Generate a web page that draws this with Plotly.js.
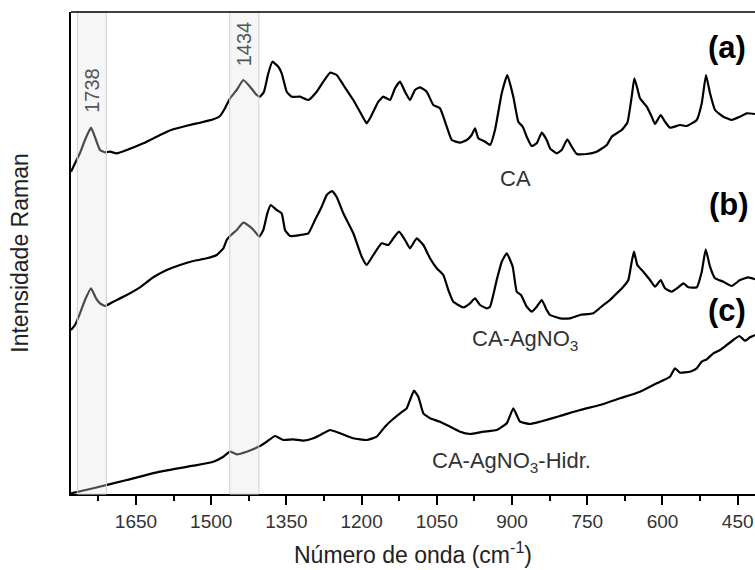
<!DOCTYPE html>
<html>
<head>
<meta charset="utf-8">
<script src="https://cdn.plot.ly/plotly-3.0.1.min.js"></script>
<style>
html,body{margin:0;padding:0;overflow:hidden;background:#fff;}
#chart{width:755px;height:570px;}
</style>
</head>
<body>
<div id="chart"></div>
<script>
// Raman spectra: wavenumber (cm-1) and intensity (a.u., stacked/offset as in the figure)
const waveCA = [1779.6,1771.6,1761.7,1751.7,1739.7,1729.7,1721.8,1711.8,1701.8,1688.5,1668.5,1635.4,1602.1,1575.6,1548.9,1522.3,1495.8,1482.4,1472.5,1462.5,1449.1,1436.0,1422.6,1409.2,1402.7,1394.7,1386.1,1378.1,1366.2,1359.4,1349.4,1339.4,1322.9,1306.3,1289.6,1276.4,1263.0,1249.7,1236.5,1216.6,1199.8,1189.9,1179.9,1166.7,1156.7,1143.4,1133.4,1123.4,1113.5,1103.5,1093.6,1083.6,1070.2,1057.0,1043.7,1030.3,1020.3,1003.8,990.4,980.5,973.9,967.3,953.9,943.9,934.0,920.6,909.5,897.5,887.5,878.7,870.8,860.8,850.8,840.8,830.9,824.3,810.9,801.0,789.8,781.0,771.0,751.1,731.2,711.2,701.2,681.3,670.1,661.4,656.2,650.2,644.8,631.4,621.5,614.9,603.5,595.0,585.0,565.0,551.7,531.7,521.7,513.2,505.2,495.2,478.7,461.9,445.4,432.0,415.5];
const intCA = [322.3,330.7,341,354,366.3,354,344,341.7,342.3,340.7,344,350.7,359,364.7,368.3,371.3,374.7,378,385.7,395.7,404,414,407.3,399,397.3,402.3,420.7,432.3,427.3,420.7,402.3,397.3,397.3,394,402.3,412.3,421.3,419,409,394,379,370.7,379,392.3,397.3,394,405.7,412.3,402.3,394,404,406.7,402.3,389,385.7,367.3,354,351.3,354,359,365.7,355.7,352.3,349,364,400.7,419,397.3,372.3,367.3,357.3,348,350.7,361.3,354,345.7,340.7,344,354.7,347.3,340,340,342.3,349,357.3,364,371.3,397.3,415.7,405.7,395.7,387.3,377.3,370,379,372.3,366.3,369,368,374,390.7,419,400.7,384,377.3,374,377.3,380.7,380];

const waveAg = [1779.6,1771.6,1761.7,1751.7,1739.7,1729.7,1721.8,1711.8,1695.2,1668.5,1642.0,1615.5,1588.7,1562.2,1535.7,1509.0,1489.0,1475.8,1469.1,1462.5,1449.1,1436.0,1422.6,1412.6,1404.1,1396.1,1388.1,1381.3,1369.4,1359.4,1352.8,1342.8,1322.9,1306.3,1293.0,1279.6,1269.6,1259.1,1249.7,1236.5,1216.6,1199.8,1189.9,1176.7,1160.0,1146.8,1136.8,1125.4,1113.5,1103.5,1090.2,1076.9,1063.6,1050.3,1037.1,1027.1,1017.1,997.2,983.8,973.9,963.9,950.5,943.9,930.6,920.6,910.6,898.7,890.7,882.1,870.8,860.8,850.8,840.8,830.9,824.3,804.3,784.4,764.5,737.9,718.0,704.6,698.0,678.1,668.1,661.4,656.8,650.2,638.2,624.9,614.9,603.5,595.0,581.6,568.4,558.4,548.5,531.7,521.7,513.8,505.2,495.2,478.7,461.9,445.4,428.8,415.5];
const intAg = [164,169,180.7,194,205.7,195.7,190.7,188,192.3,199,206.7,216.7,224,229,233,235.7,239,245.7,254,258,264,271.3,267.3,262.3,257.3,264,280.7,289,284,280.7,264,258,259,260.7,274,287.3,299,303,297,280.7,260.7,237.3,229,239,250.7,249,255.7,262.3,254,245.7,255.7,249,235.7,225.7,219,204,192.3,186.7,190.7,195.7,189,185.7,187.3,214,232.3,240.7,227.3,202.3,199,187.3,182.3,187.3,194,184,179,175.7,175.7,179,180.7,189,194,197.3,207.3,214,232.3,242.3,229,222.3,214,207.3,214,205.7,202.3,206.7,210.7,206.7,206.7,222.3,244.7,227.3,215.7,212.3,208,214,216.7,214.7];

const waveHid = [1779.6,1735.1,1668.5,1602.1,1535.7,1495.8,1475.8,1462.5,1449.1,1429.2,1402.7,1389.3,1372.8,1356.2,1336.2,1316.3,1296.3,1276.4,1263.0,1243.1,1216.6,1189.9,1169.9,1153.4,1143.4,1123.4,1110.1,1103.5,1095.5,1086.9,1076.9,1063.6,1043.7,1023.7,1003.8,983.8,957.3,930.6,910.6,897.5,884.1,864.2,844.3,804.3,764.5,724.6,684.7,644.8,611.5,585.0,575.0,565.0,545.1,531.7,521.7,511.7,498.6,485.2,471.9,458.7,446.7,435.4,425.4,415.5];
const intHid = [0.7,5.7,14,22.3,28.3,32.3,37.3,42.3,39.7,42.3,48,52.3,58,54,54.7,53.3,55.7,60.7,64,60.7,55.7,54,57.3,67.3,72.3,80.7,85.7,94,103.3,97.3,80.7,75.7,72.3,67.3,62.3,60,62.3,64,70.7,85.7,72.3,70,72.3,78,84,89,95.7,102.3,110.7,117.3,125.7,121.3,122.3,125.7,132.3,134.7,140.7,144,149,154,158,153.3,156.7,159];

const seriesNames = ["CA", "CA-AgNO<sub>3</sub>", "CA-AgNO<sub>3</sub>-Hidr."];
const panelLabels = ["(a)", "(b)", "(c)"];
const bandCenters = [1738, 1434];
const bandHalfWidth = 29;

const FONT = "Arial, 'Liberation Sans', sans-serif";

const traces = [
  {x: waveCA, y: intCA, name: seriesNames[0]},
  {x: waveAg, y: intAg, name: seriesNames[1]},
  {x: waveHid, y: intHid, name: seriesNames[2]}
].map(t => Object.assign(t, {type: 'scatter', mode: 'lines', line: {color: '#000', width: 2.2, shape: 'spline', smoothing: 0.4}, hoverinfo: 'skip'}));

const shapes = [];
bandCenters.forEach(c => {
  shapes.push({type: 'rect', xref: 'x', yref: 'paper', x0: c + bandHalfWidth, x1: c - bandHalfWidth, y0: 0, y1: 1,
    fillcolor: 'rgba(228,228,228,0.33)', line: {color: '#d2d2d2', width: 1}, layer: 'above'});
});
shapes.push({type: 'line', xref: 'paper', yref: 'paper', x0: 0, x1: 1, y0: 1, y1: 1, line: {color: '#000', width: 1.5}});

const annotations = [
  {x: bandCenters[0], y: 404, text: String(bandCenters[0]), textangle: -90, font: {size: 20, color: '#555'}},
  {x: bandCenters[1], y: 450, text: String(bandCenters[1]), textangle: -90, font: {size: 20, color: '#555'}},
  {x: 894, y: 316, text: seriesNames[0], font: {size: 22, color: '#333'}},
  {x: 874, y: 154, text: seriesNames[1], font: {size: 22, color: '#333'}},
  {x: 902, y: 32, text: seriesNames[2], font: {size: 22, color: '#333'}},
  {x: 471, y: 447, text: '<b>' + panelLabels[0] + '</b>', font: {size: 31, color: '#000'}},
  {x: 467, y: 290, text: '<b>' + panelLabels[1] + '</b>', font: {size: 31, color: '#000'}},
  {x: 471, y: 184, text: '<b>' + panelLabels[2] + '</b>', font: {size: 31, color: '#000'}}
].map(a => Object.assign({xref: 'x', yref: 'y', showarrow: false, xanchor: 'center', yanchor: 'middle'}, a, {font: Object.assign({family: FONT}, a.font)}));

const layout = {
  width: 755, height: 570,
  margin: {l: 71, r: 0, t: 12, b: 76, pad: 0},
  paper_bgcolor: '#fff', plot_bgcolor: '#fff',
  showlegend: false,
  font: {family: FONT, color: '#333'},
  xaxis: {
    range: [1779.6, 415.5],
    tick0: 0, dtick: 150,
    ticks: 'outside', ticklen: 9, tickwidth: 1.5, tickcolor: '#000',
    minor: {dtick: 75, ticks: 'outside', ticklen: 5, tickwidth: 1.5, tickcolor: '#000'},
    showline: true, linecolor: '#000', linewidth: 1.5,
    showgrid: false, zeroline: false,
    tickfont: {size: 19, color: '#333', family: FONT},
    title: {text: 'Número de onda (cm<sup>-1</sup>)', font: {size: 23, color: '#222', family: FONT}, standoff: 16}
  },
  yaxis: {
    range: [0, 482],
    showticklabels: false, ticks: '',
    showline: true, linecolor: '#000', linewidth: 1.5,
    showgrid: false, zeroline: false,
    title: {text: 'Intensidade Raman', font: {size: 23, color: '#222', family: FONT}, standoff: 34}
  },
  shapes: shapes,
  annotations: annotations
};

Plotly.newPlot('chart', traces, layout, {displayModeBar: false});
</script>
</body>
</html>
